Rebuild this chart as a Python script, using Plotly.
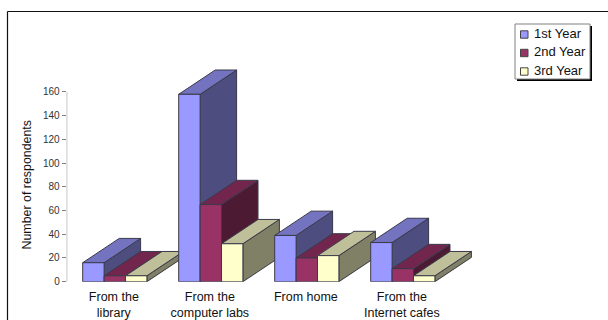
import plotly.graph_objects as go

categories = ["From the<br>library", "From the<br>computer labs", "From home", "From the<br>Internet cafes"]
series_names = ["1st Year", "2nd Year", "3rd Year"]
first_year = [16, 158, 39, 33]
second_year = [5, 65, 20, 11]
third_year = [5, 32, 22, 5]
y_ticks = [0, 20, 40, 60, 80, 100, 120, 140, 160]

front_colors = ["#9999FF", "#993366", "#FFFFCC"]
top_colors = ["#7373BF", "#73264D", "#BFBF99"]
side_colors = ["#4D4D80", "#4D1A33", "#808066"]
edge = "#3A3A4A"

W, H = 608, 320
AX_LEFT, AX_BOTTOM = 66.7, 281.7      # pixel position of the axis origin
UNIT_X, UNIT_Y = 96.0, 1.186          # pixels per category step / per respondent
BAR_W = 21.4 / UNIT_X
DEPTH_X, DEPTH_Y = 36.5 / UNIT_X, 24.3 / UNIT_Y
X0 = (82.7 - AX_LEFT) / UNIT_X        # left edge of the first group

fig = go.Figure()


def face(xs, ys, color):
    fig.add_trace(go.Scatter(
        x=xs, y=ys, mode="lines", fill="toself", fillcolor=color,
        line=dict(color=edge, width=1), hoverinfo="skip", showlegend=False,
    ))


# Extruded bars, painted back to front: side, top, then front of each bar
for g in range(len(categories)):
    for s, values in enumerate([first_year, second_year, third_year]):
        v = values[g]
        x1 = X0 + g + s * BAR_W
        x2 = x1 + BAR_W
        face([x2, x2 + DEPTH_X, x2 + DEPTH_X, x2, x2],
             [0, DEPTH_Y, v + DEPTH_Y, v, 0], side_colors[s])
        face([x1, x1 + DEPTH_X, x2 + DEPTH_X, x2, x1],
             [v, v + DEPTH_Y, v + DEPTH_Y, v, v], top_colors[s])
        face([x1, x2, x2, x1, x1], [0, 0, v, v, 0], front_colors[s])

# Value axis line stops at the top tick
fig.add_trace(go.Scatter(x=[0, 0], y=[0, 160], mode="lines",
                         line=dict(color="#808080", width=1),
                         hoverinfo="skip", showlegend=False, cliponaxis=False))

shapes = [
    # Outer frame, open along the bottom
    dict(type="line", xref="paper", yref="paper", x0=7.5 / W, x1=1, y0=1 - 11.5 / H, y1=1 - 11.5 / H,
         line=dict(color="#111111", width=1.2)),
    dict(type="line", xref="paper", yref="paper", x0=7.5 / W, x1=7.5 / W, y0=0, y1=1 - 11.5 / H,
         line=dict(color="#111111", width=1.2)),
    # Legend shadow and box
    dict(type="rect", xref="paper", yref="paper", x0=517 / W, x1=592 / W, y0=1 - 81 / H, y1=1 - 26 / H,
         fillcolor="#000000", line=dict(width=0)),
    dict(type="rect", xref="paper", yref="paper", x0=515 / W, x1=590 / W, y0=1 - 79 / H, y1=1 - 24 / H,
         fillcolor="#FFFFFF", line=dict(color="#808080", width=1)),
]
annotations = []
for i, name in enumerate(series_names):
    cy = 34.5 + i * 18.5
    shapes.append(dict(type="rect", xref="paper", yref="paper",
                       x0=520.5 / W, x1=528 / W, y0=1 - (cy + 3.7) / H, y1=1 - (cy - 3.7) / H,
                       fillcolor=front_colors[i], line=dict(color="#444444", width=1)))
    annotations.append(dict(xref="paper", yref="paper", x=532 / W, y=1 - (cy - 1) / H, text=name,
                            showarrow=False, xanchor="left", yanchor="middle",
                            font=dict(size=13, color="#111111")))

annotations.append(dict(xref="paper", yref="paper", x=26.5 / W, y=1 - 185 / H,
                        text="Number of respondents", textangle=-90, showarrow=False,
                        font=dict(size=12.4, color="#111111"), xanchor="center", yanchor="middle"))

fig.update_layout(
    width=W, height=H,
    margin=dict(l=0, r=0, t=0, b=0, autoexpand=False),
    paper_bgcolor="white", plot_bgcolor="white",
    font=dict(family="Liberation Sans, Arial, sans-serif"),
    showlegend=False,
    shapes=shapes,
    annotations=annotations,
    xaxis=dict(
        domain=[AX_LEFT / W, 1],
        range=[0, (W - AX_LEFT) / UNIT_X],
        tickmode="array",
        tickvals=[X0 + g + 1.5 * BAR_W - 0.01 for g in range(len(categories))],
        ticktext=categories,
        ticks="outside", ticklen=3, tickcolor="rgba(0,0,0,0)",
        showgrid=False, zeroline=False, showline=False, automargin=False,
        tickfont=dict(size=12.5, color="#111111"),
    ),
    yaxis=dict(
        domain=[1 - AX_BOTTOM / H, 1],
        range=[0, AX_BOTTOM / UNIT_Y],
        tickmode="array", tickvals=y_ticks,
        ticks="outside", ticklen=4, tickcolor="#808080",
        showgrid=False, zeroline=False, showline=False, automargin=False,
        tickfont=dict(size=10, color="#333333"),
    ),
)

fig.write_html("out.html")
